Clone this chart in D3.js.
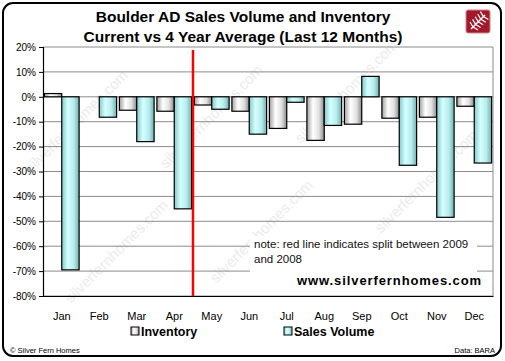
<!DOCTYPE html>
<html><head><meta charset="utf-8">
<script src="https://cdn.jsdelivr.net/npm/d3@7"></script>
<style>body{margin:0;background:#fff}svg{display:block}text{font-family:Arial,"Liberation Sans",sans-serif}</style>
</head><body><svg id="c" width="505" height="361"></svg>
<script>
const months = ["Jan","Feb","Mar","Apr","May","Jun","Jul","Aug","Sep","Oct","Nov","Dec"];
const inventory = [1.3,0,-5.4,-5.8,-3.3,-5.8,-12.7,-17.5,-11,-8.6,-8.2,-3.8];
const salesVolume = [-69.5,-8.2,-18,-45,-5,-15,-2.2,-11.5,8.2,-27.5,-48.4,-26.6];
const yTicks = [20,10,0,-10,-20,-30,-40,-50,-60,-70,-80];
const seriesNames = ["Inventory","Sales Volume"];

const svg = d3.select("#c");
const defs = svg.append("defs");
const gi = defs.append("linearGradient").attr("id","gInv");
[[0,"#a0a0a0"],[0.35,"#ffffff"],[0.7,"#e0e0e0"],[1,"#8a8a8a"]].forEach(s=>gi.append("stop").attr("offset",s[0]).attr("stop-color",s[1]));
const gs = defs.append("linearGradient").attr("id","gSal");
[[0,"#86c8c8"],[0.35,"#d4ffff"],[0.7,"#b8ecec"],[1,"#6fb0b0"]].forEach(s=>gs.append("stop").attr("offset",s[0]).attr("stop-color",s[1]));

// outer border
svg.append("rect").attr("x",3).attr("y",3).attr("width",498).attr("height",353).attr("rx",10)
  .attr("fill","#fff").attr("stroke","#000").attr("stroke-width",2);

// watermarks
const wm = svg.append("g").attr("fill","#ececec").attr("font-size",15);
[[80,125],[215,120],[350,95],[120,255],[265,235],[430,185]].forEach(p=>{
  wm.append("text").attr("transform",`translate(${p[0]},${p[1]}) rotate(-45)`).attr("text-anchor","middle").text("silverfernhomes.com");
});

const L=43, R=493, T=47, B=296;
const x = d3.scaleBand().domain(months).range([L,R]).paddingInner(0).paddingOuter(0);
const y = d3.scaleLinear().domain([-80,20]).range([B,T]);
const inner = d3.scaleBand().domain(seriesNames).range([0,x.bandwidth()]).paddingInner(0).paddingOuter(0.08);

// gridlines
svg.append("g").selectAll("line").data(yTicks).join("line")
  .attr("x1",L).attr("x2",R).attr("y1",d=>y(d)).attr("y2",d=>y(d))
  .attr("stroke","#8c8c8c").attr("stroke-width",1);
svg.append("line").attr("x1",R).attr("x2",R).attr("y1",T).attr("y2",B).attr("stroke","#8c8c8c");

// note box
svg.append("rect").attr("x",250).attr("y",236).attr("width",227).attr("height",50).attr("fill","#fff");
svg.append("text").attr("x",254).attr("y",248).attr("font-size",11.5).attr("fill","#111").text("note: red line indicates split between 2009");
svg.append("text").attr("x",254).attr("y",263).attr("font-size",11.5).attr("fill","#111").text("and 2008");
svg.append("text").attr("x",482).attr("y",285).attr("text-anchor","end").attr("font-size",13).attr("font-weight","bold").attr("letter-spacing",0.9).text("www.silverfernhomes.com");

// bars
const data = months.map((m,i)=>({m, v:[inventory[i], salesVolume[i]]}));
const grp = svg.append("g").selectAll("g").data(data).join("g").attr("transform",d=>`translate(${x(d.m)},0)`);
grp.selectAll("rect").data(d=>d.v.map((v,j)=>({v,s:seriesNames[j]}))).join("rect")
  .attr("x",d=>inner(d.s)).attr("width",inner.bandwidth())
  .attr("y",d=>y(Math.max(0,d.v))).attr("height",d=>Math.abs(y(d.v)-y(0)))
  .attr("fill",d=>d.s==="Inventory"?"url(#gInv)":"url(#gSal)")
  .attr("stroke","#000").attr("stroke-width",1.2)
  .attr("display",d=>d.v===0?"none":null);

// red split line
svg.append("line").attr("x1",x("May")).attr("x2",x("May")).attr("y1",50).attr("y2",B).attr("stroke","#ff0000").attr("stroke-width",2.5);

// axes
const ya = svg.append("g").attr("transform",`translate(${L},0)`)
  .call(d3.axisLeft(y).tickValues(yTicks).tickFormat(d=>d+"%").tickSize(4).tickPadding(3));
ya.select(".domain").attr("stroke","#000").attr("stroke-width",1.2);
ya.selectAll("text").attr("font-size",10).attr("font-family","Arial").attr("fill","#000");
const xa = svg.append("g").attr("transform",`translate(0,${B})`)
  .call(d3.axisBottom(x).tickSize(0).tickPadding(16));
xa.select(".domain").attr("stroke","#000").attr("stroke-width",1.2);
xa.selectAll("text").attr("font-size",11).attr("font-family","Arial").attr("fill","#000");

// title
svg.append("text").attr("x",243).attr("y",22).attr("text-anchor","middle").attr("font-size",15.5).attr("font-weight","bold").text("Boulder AD Sales Volume and Inventory");
svg.append("text").attr("x",243).attr("y",42).attr("text-anchor","middle").attr("font-size",15.5).attr("font-weight","bold").text("Current vs 4 Year Average (Last 12 Months)");

// logo
const lg = svg.append("g").attr("transform","translate(466,10)");
lg.append("rect").attr("width",24).attr("height",23).attr("rx",2).attr("fill","#a3192b").attr("stroke","#c88").attr("stroke-width",1);
lg.append("path").attr("d","M5,19 L19,5").attr("stroke","#fff").attr("stroke-width",1.5);
for(let k=0;k<5;k++){const px=7+k*2.6, py=17-k*2.6;
  lg.append("path").attr("d",`M${px},${py} l-3,-5 M${px},${py} l5,3`).attr("stroke","#fff").attr("stroke-width",1.2);}

// legend
const leg = [{n:"Inventory",x:131,f:"url(#gInv)"},{n:"Sales Volume",x:284,f:"url(#gSal)"}];
leg.forEach(l=>{
  svg.append("rect").attr("x",l.x).attr("y",327).attr("width",8).attr("height",8).attr("fill",l.f).attr("stroke","#000");
  svg.append("text").attr("x",l.x+10).attr("y",336).attr("font-size",12.5).attr("font-weight","bold").text(l.n);
});

// footer
svg.append("text").attr("x",10).attr("y",353).attr("font-size",7.5).text("© Silver Fern Homes");
svg.append("text").attr("x",495).attr("y",353).attr("text-anchor","end").attr("font-size",7.5).text("Data: BARA");
</script></body></html>
